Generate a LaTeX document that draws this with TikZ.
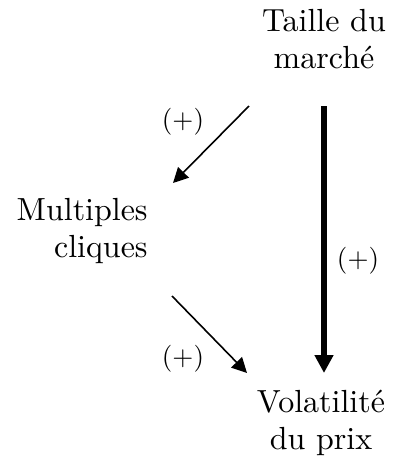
\documentclass[tikz,border=0pt]{standalone}
\usepackage{fontspec}
\newfontfamily\lmten{lmroman10-regular.otf}
\usetikzlibrary{arrows.meta}
\tikzset{
  concept/.style={inner sep=0pt,font=\lmten\fontsize{16}{18.5}\selectfont},
  sign/.style={inner sep=0pt,font=\lmten\fontsize{13.5}{15}\selectfont},
  link/.style={-{Triangle[length=7.5pt,width=7.5pt]},line width=0.8pt},
  mainlink/.style={-{Triangle[length=9pt,width=9pt]},line width=2.75pt},
}
\begin{document}
\begin{tikzpicture}[x=0.5pt,y=-0.5pt]
  \useasboundingbox (0,0) rectangle (392,461);
  % variables
  \node[concept,anchor=north,align=center] (taille) at (324,9) {Taille du\\march\'e};
  \node[concept,anchor=north east,align=right] (cliques) at (148,198) {Multiples\\cliques};
  \node[concept,anchor=north,align=center] (volat) at (321,390) {Volatilit\'e\\du prix};
  % arrow ends
  \coordinate (t1) at (249,106);
  \coordinate (c1) at (173,183);
  \coordinate (t2) at (324,106);
  \coordinate (v2) at (324,373);
  \coordinate (c3) at (172,296);
  \coordinate (v3) at (247,373);
  \draw[link] (t1) -- (c1);
  \draw[mainlink] (t2) -- (v2);
  \draw[link] (c3) -- (v3);
  % signs
  \node[sign] (s1) at (183,122) {(+)};
  \node[sign] (s2) at (358,261) {(+)};
  \node[sign] (s3) at (183,359) {(+)};
\end{tikzpicture}
\end{document}
